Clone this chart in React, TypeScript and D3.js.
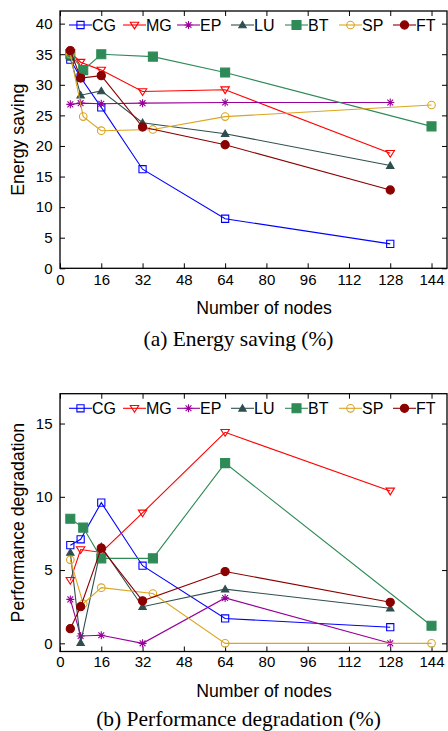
import React, { useEffect, useRef } from "react"
import * as d3 from "d3"

const nodesPow2 = [4, 8, 16, 32, 64, 128]
const nodesSquare = [4, 9, 16, 36, 64, 144]
const benchmarks = ["CG", "MG", "EP", "LU", "BT", "SP", "FT"]
const xTicks = [0, 16, 32, 48, 64, 80, 96, 112, 128, 144]
const energyTicks = [0, 5, 10, 15, 20, 25, 30, 35, 40]
const perfTicks = [0, 5, 10, 15]

// energy saving (%)
const energyCG = [34.1, 31.2, 26.3, 16.2, 8.1, 4.0]
const energyMG = [35.3, 33.7, 32.4, 28.9, 29.2, 18.8]
const energyEP = [26.8, 27.0, 26.9, 27.0, 27.1, 27.1]
const energyLU = [34.5, 28.3, 29.0, 23.8, 22.0, 16.8]
const energyBT = [35.0, 32.4, 35.0, 34.6, 32.0, 23.2]
const energySP = [35.0, 24.8, 22.5, 22.7, 24.8, 26.7]
const energyFT = [35.6, 31.1, 31.5, 23.1, 20.2, 12.8]

// performance degradation (%)
const perfCG = [6.7, 7.1, 9.6, 5.3, 1.7, 1.1]
const perfMG = [4.3, 6.4, 6.2, 8.9, 14.4, 10.4]
const perfEP = [3.0, 0.5, 0.55, 0.0, 3.1, 0.0]
const perfLU = [6.2, 0.05, 6.6, 2.5, 3.7, 2.4]
const perfBT = [8.5, 7.9, 5.8, 5.8, 12.3, 1.2]
const perfSP = [5.7, 2.7, 3.8, 3.4, 0.0, 0.0]
const perfFT = [1.0, 2.5, 6.5, 2.9, 4.9, 2.8]

const colors = ["#0000ff", "#ff0000", "#990099", "#2f4f4f", "#2e8b57", "#daa520", "#8b0000"]
const markers = ["openSquare", "openTriDown", "star", "triUp", "square", "openCircle", "circle"]

const sans = "'Liberation Sans', Arial, Helvetica, sans-serif"
const serif = "'Liberation Serif', 'Times New Roman', serif"

function markerPath( kind ) {
  switch ( kind ) {
    case "openSquare": return "M-3.6,-3.6h7.2v7.2h-7.2z"
    case "square": return "M-4.5,-4.5h9v9h-9z"
    case "openTriDown": return "M-4.2,-2.8L4.2,-2.8L0,3.9Z"
    case "triUp": return "M0,-3.6L3.7,2.8L-3.7,2.8Z"
    case "star": return "M-4,0H4M0,-4V4M-2.9,-2.9L2.9,2.9M-2.9,2.9L2.9,-2.9"
    case "openCircle": return "M3.8,0A3.8,3.8 0 1,1 -3.8,0A3.8,3.8 0 1,1 3.8,0Z"
    default: return "M4.1,0A4.1,4.1 0 1,1 -4.1,0A4.1,4.1 0 1,1 4.1,0Z"
  }
}

function addMarker( g, kind, color, x, y ) {
  const open = kind.startsWith( "open" ) || kind === "star"
  g.append( "path" )
    .attr( "d", markerPath( kind ) )
    .attr( "transform", `translate(${x},${y})` )
    .attr( "fill", open ? "none" : color )
    .attr( "stroke", color )
    .attr( "stroke-width", 1.1 )
}

function drawChart( svg, opts ) {
  const left = 60
  const right = 447
  const { top, bottom, yDomain, yRange, yTicks, data, yLabel, caption, xPad, legendY, labelY, captionY } = opts

  const x = d3.scaleLinear().domain( [ 0, 150 ] ).range( [ left, right ] )
  const y = d3.scaleLinear().domain( yDomain ).range( yRange )

  const g = svg.append( "g" )

  // axes (ticks inward, mirrored on top and right)
  const axes = [
    { axis: d3.axisBottom( x ).tickValues( xTicks ).tickPadding( xPad ), pos: `translate(0,${bottom})` },
    { axis: d3.axisTop( x ).tickValues( xTicks ).tickFormat( () => "" ), pos: `translate(0,${top})` },
    { axis: d3.axisLeft( y ).tickValues( yTicks ).tickPadding( 7.5 ), pos: `translate(${left},0)` },
    { axis: d3.axisRight( y ).tickValues( yTicks ).tickFormat( () => "" ), pos: `translate(${right},0)` }
  ]
  axes.forEach( ( { axis, pos } ) => {
    const a = g.append( "g" )
      .attr( "transform", pos )
      .call( axis.tickSizeInner( -5 ).tickSizeOuter( 0 ) )
    a.select( ".domain" ).remove()
    a.selectAll( "line" ).attr( "stroke", "#000" ).attr( "stroke-width", 1 )
    a.selectAll( "text" ).attr( "font-family", sans ).attr( "font-size", 15 ).attr( "fill", "#000" )
  } )

  g.append( "rect" )
    .attr( "x", left )
    .attr( "y", top )
    .attr( "width", right - left )
    .attr( "height", bottom - top )
    .attr( "fill", "none" )
    .attr( "stroke", "#000" )
    .attr( "stroke-width", 1.3 )

  const line = d3.line().x( d => x( d[ 0 ] ) ).y( d => y( d[ 1 ] ) )

  data.forEach( ( ys, i ) => {
    const xs = benchmarks[ i ] === "BT" || benchmarks[ i ] === "SP" ? nodesSquare : nodesPow2
    const pts = xs.map( ( v, j ) => [ v, ys[ j ] ] )
    g.append( "path" )
      .attr( "d", line( pts ) )
      .attr( "fill", "none" )
      .attr( "stroke", colors[ i ] )
      .attr( "stroke-width", 1.1 )
    pts.forEach( p => addMarker( g, markers[ i ], colors[ i ], x( p[ 0 ] ), y( p[ 1 ] ) ) )
  } )

  // legend
  benchmarks.forEach( ( name, i ) => {
    const x0 = 69 + i * 54
    g.append( "line" )
      .attr( "x1", x0 )
      .attr( "x2", x0 + 23 )
      .attr( "y1", legendY )
      .attr( "y2", legendY )
      .attr( "stroke", colors[ i ] )
      .attr( "stroke-width", 1.1 )
    addMarker( g, markers[ i ], colors[ i ], x0 + 11.5, legendY )
    g.append( "text" )
      .attr( "x", x0 + 23 )
      .attr( "y", legendY + 5.8 )
      .attr( "font-family", sans )
      .attr( "font-size", 16 )
      .text( name )
  } )

  g.append( "text" )
    .attr( "transform", `translate(24,${( top + bottom ) / 2}) rotate(-90)` )
    .attr( "text-anchor", "middle" )
    .attr( "font-family", sans )
    .attr( "font-size", 17.7 )
    .text( yLabel )

  g.append( "text" )
    .attr( "x", 264 )
    .attr( "y", labelY )
    .attr( "text-anchor", "middle" )
    .attr( "font-family", sans )
    .attr( "font-size", 17.7 )
    .text( "Number of nodes" )

  g.append( "text" )
    .attr( "x", 238.5 )
    .attr( "y", captionY )
    .attr( "text-anchor", "middle" )
    .attr( "font-family", serif )
    .attr( "font-size", 21.5 )
    .text( caption )
}

export default function App() {
  const ref = useRef( null )

  useEffect( () => {
    document.body.style.margin = "0"
    const svg = d3.select( ref.current )
    svg.selectAll( "*" ).remove()

    drawChart( svg, {
      top: 11,
      bottom: 268.3,
      yDomain: [ 0, 42 ],
      yRange: [ 268.3, 11.4 ],
      yTicks: energyTicks,
      data: [ energyCG, energyMG, energyEP, energyLU, energyBT, energySP, energyFT ],
      yLabel: "Energy saving",
      caption: "(a) Energy saving (%)",
      xPad: 6.3,
      legendY: 25,
      labelY: 314,
      captionY: 345.7
    } )

    drawChart( svg, {
      top: 393.7,
      bottom: 651.5,
      yDomain: [ -0.55, 17.05 ],
      yRange: [ 651.4, 393.5 ],
      yTicks: perfTicks,
      data: [ perfCG, perfMG, perfEP, perfLU, perfBT, perfSP, perfFT ],
      yLabel: "Performance degradation",
      caption: "(b) Performance degradation (%)",
      xPad: 4.6,
      legendY: 408.3,
      labelY: 697,
      captionY: 726
    } )
  }, [] )

  return <svg ref={ref} width={448} height={731} style={{ display: "block", background: "#fff" }} />
}
